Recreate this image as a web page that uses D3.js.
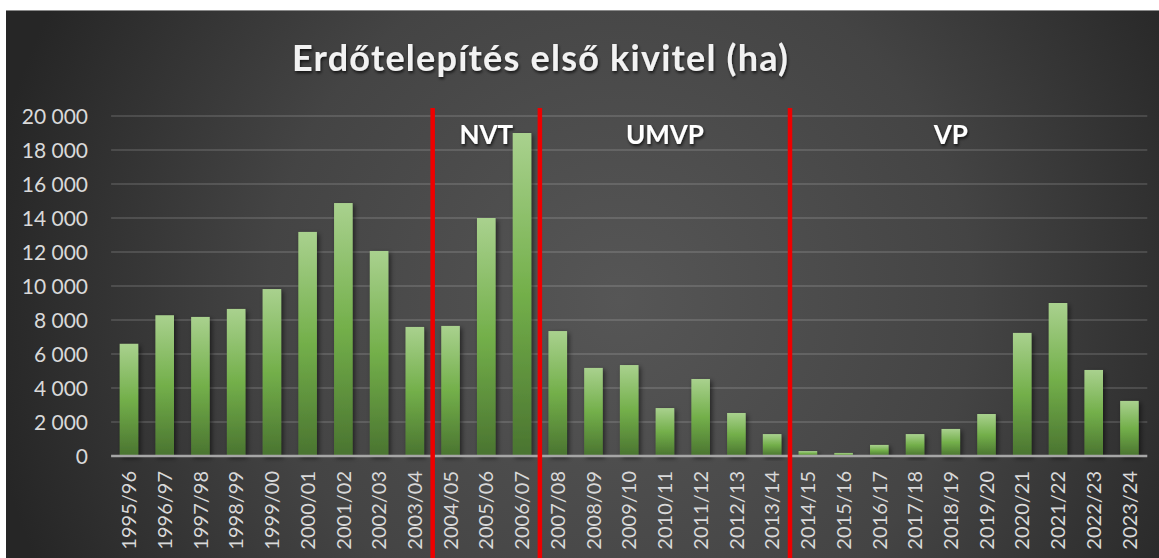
<!DOCTYPE html>
<html>
<head>
<meta charset="utf-8">
<script src="https://cdn.jsdelivr.net/npm/d3@7"></script>
<style>
  html, body { margin: 0; padding: 0; background: #ffffff; }
  svg { display: block; }
</style>
</head>
<body>
<svg id="chart" width="1159" height="558"></svg>
<script>
const categories = ["1995/96","1996/97","1997/98","1998/99","1999/00","2000/01","2001/02","2002/03","2003/04","2004/05","2005/06","2006/07","2007/08","2008/09","2009/10","2010/11","2011/12","2012/13","2013/14","2014/15","2015/16","2016/17","2017/18","2018/19","2019/20","2020/21","2021/22","2022/23","2023/24"];
const values = [6600,8280,8180,8650,9820,13180,14880,12060,7590,7650,14000,19000,7350,5180,5350,2820,4530,2530,1290,290,180,650,1290,1590,2470,7240,9000,5060,3240];
const yTicks = [0,2000,4000,6000,8000,10000,12000,14000,16000,18000,20000];
const dividers = ["2004/05","2007/08","2014/15"];
const periodLabels = ["NVT","UMVP","VP"];
const periodFrom = ["2004/05","2007/08","2015/16"];
const periodTo = ["2006/07","2013/14","2021/22"];
const title = "Erdőtelepítés első kivitel (ha)";

const svg = d3.select("#chart");
const W = 1159, H = 558;
const defs = svg.append("defs");

// background gradient
const bg = defs.append("radialGradient").attr("id","bg")
  .attr("gradientUnits","userSpaceOnUse")
  .attr("cx",620).attr("cy",300).attr("r",640);
bg.append("stop").attr("offset","0%").attr("stop-color","#565656");
bg.append("stop").attr("offset","55%").attr("stop-color","#444444");
bg.append("stop").attr("offset","100%").attr("stop-color","#262626");

const barGrad = defs.append("linearGradient").attr("id","barGrad")
  .attr("x1",0).attr("y1",0).attr("x2",0).attr("y2",1);
barGrad.append("stop").attr("offset","0%").attr("stop-color","#a9d18e");
barGrad.append("stop").attr("offset","50%").attr("stop-color","#73af4a");
barGrad.append("stop").attr("offset","100%").attr("stop-color","#4a7430");

const shadow = defs.append("filter").attr("id","shadow")
  .attr("x","-30%").attr("y","-10%").attr("width","170%").attr("height","130%");
shadow.append("feDropShadow").attr("dx",2).attr("dy",2).attr("stdDeviation",2.5)
  .attr("flood-color","#000").attr("flood-opacity",0.55);

const tshadow = defs.append("filter").attr("id","tshadow")
  .attr("x","-5%").attr("y","-20%").attr("width","110%").attr("height","150%");
tshadow.append("feDropShadow").attr("dx",1).attr("dy",2).attr("stdDeviation",1.5)
  .attr("flood-color","#000").attr("flood-opacity",0.7);

// chart box
svg.append("rect").attr("x",6).attr("y",10).attr("width",W).attr("height",H)
  .attr("fill","url(#bg)");
svg.append("line").attr("x1",6).attr("x2",W).attr("y1",10.5).attr("y2",10.5)
  .attr("stroke","#8a8a8a").attr("stroke-width",1);

const x0 = 111.1, x1 = 1147.3, yTop = 116, yBot = 456;
const x = d3.scaleBand().domain(categories).range([x0, x1]).paddingInner(0.48).paddingOuter(0.24);
const y = d3.scaleLinear().domain([0, 20000]).range([yBot, yTop]);

// gridlines
svg.append("g").selectAll("line").data(yTicks.filter(d => d > 0)).join("line")
  .attr("x1", x0).attr("x2", x1)
  .attr("y1", d => y(d)).attr("y2", d => y(d))
  .attr("stroke", "rgba(255,255,255,0.13)").attr("stroke-width", 2);

// y axis labels
const yAxis = d3.axisLeft(y).tickValues(yTicks).tickSize(0).tickPadding(0)
  .tickFormat(d => d3.format(",")(d).replace(/,/g, "\u00a0"));
const yg = svg.append("g").attr("transform", `translate(88,0)`).call(yAxis);
yg.select(".domain").remove();
yg.selectAll("text").attr("fill","#d9d9d9").attr("font-family","Lato, 'Open Sans', sans-serif")
  .attr("font-size", 21).attr("dy","0.35em");

// bars
svg.append("g").selectAll("rect").data(categories).join("rect")
  .attr("x", d => x(d)).attr("width", x.bandwidth())
  .attr("y", (d,i) => y(values[i])).attr("height", (d,i) => yBot - y(values[i]))
  .attr("fill","url(#barGrad)").attr("filter","url(#shadow)");

// x axis
const xAxis = d3.axisBottom(x).tickSize(0).tickPadding(0);
const xg = svg.append("g").attr("transform", `translate(0,${yBot})`).call(xAxis);
xg.select(".domain").attr("stroke","#a6a6a6").attr("stroke-width",2.5)
  .attr("d", `M${x0},0H${x1}`);
xg.selectAll("text")
  .attr("fill","#d9d9d9").attr("font-family","Lato, 'Open Sans', sans-serif").attr("font-size",20)
  .attr("text-anchor","end").attr("transform","rotate(-90)")
  .attr("x",-15).attr("y",0).attr("dy","0.36em");

// red divider lines
const step = x.step();
const gap = step - x.bandwidth();
svg.append("g").selectAll("line").data(dividers).join("line")
  .attr("x1", d => x(d) - gap/2).attr("x2", d => x(d) - gap/2)
  .attr("y1", 108).attr("y2", H)
  .attr("stroke","#ee0000").attr("stroke-width",4.5);

// period labels
svg.append("g").selectAll("text").data(periodLabels).join("text")
  .attr("x", (d,i) => (x(periodFrom[i]) + x(periodTo[i]) + x.bandwidth())/2)
  .attr("y", 144)
  .attr("text-anchor","middle")
  .attr("font-family","Lato, 'Open Sans', sans-serif").attr("font-weight",700).attr("font-size",26)
  .attr("fill","#ffffff").attr("filter","url(#tshadow)")
  .text(d => d);

// title
svg.append("text").attr("x", 292).attr("y", 71)
  .attr("font-family","Lato, 'Open Sans', sans-serif").attr("font-weight",700).attr("font-size",36)
  .attr("fill","#f2f2f2").attr("filter","url(#tshadow)")
  .attr("textLength", 496).attr("lengthAdjust","spacing")
  .text(title);
</script>
</body>
</html>
